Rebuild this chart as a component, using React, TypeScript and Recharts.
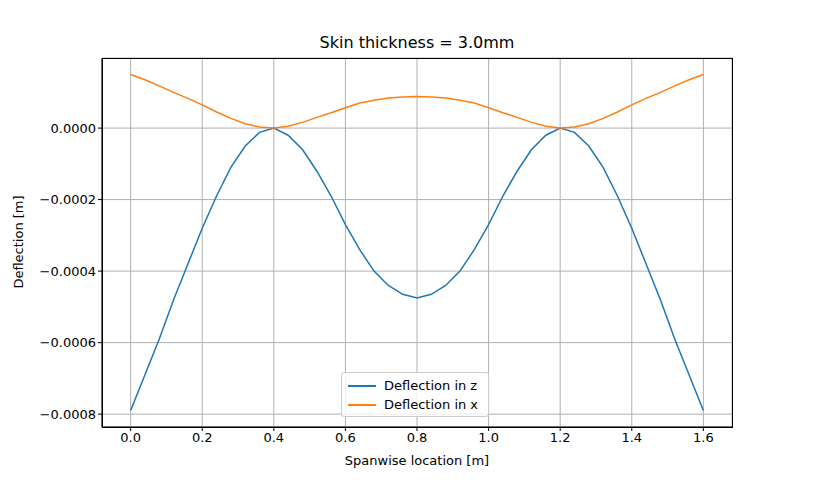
import React from "react";
import { LineChart, Line, XAxis, YAxis, CartesianGrid } from "recharts";

const spanwise = [0,0.04,0.08,0.12,0.16,0.2,0.24,0.28,0.32,0.36,0.4,0.44,0.48,0.52,0.56,0.6,0.64,0.68,0.72,0.76,0.8,0.84,0.88,0.92,0.96,1.0,1.04,1.08,1.12,1.16,1.2,1.24,1.28,1.32,1.36,1.4,1.44,1.48,1.52,1.56,1.6];
const deflZ = [-0.00079,-0.00069,-0.00059,-0.00048,-0.00038,-0.00028,-0.00019,-0.00011,-0.00005,-0.000012,0,-0.00002,-0.00006,-0.00012,-0.00019,-0.00027,-0.00034,-0.0004,-0.00044,-0.000465,-0.000475,-0.000465,-0.00044,-0.0004,-0.00034,-0.00027,-0.00019,-0.00012,-0.00006,-0.00002,0,-0.000012,-0.00005,-0.00011,-0.00019,-0.00028,-0.00038,-0.00048,-0.00059,-0.00069,-0.00079];
const deflX = [0.00015,0.000135,0.000118,0.0001,0.000083,0.000065,0.000045,0.000027,0.000012,0.000003,0,0.000005,0.000016,0.00003,0.000043,0.000057,0.00007,0.000078,0.000084,0.000087,0.000088,0.000087,0.000084,0.000078,0.00007,0.000057,0.000043,0.00003,0.000016,0.000005,0,0.000003,0.000012,0.000027,0.000045,0.000065,0.000083,0.0001,0.000118,0.000135,0.00015];
const xTicks = [0,0.2,0.4,0.6,0.8,1.0,1.2,1.4,1.6];
const yTicks = [-0.0008,-0.0006,-0.0004,-0.0002,0];

const data = spanwise.map((s, i) => ({ s, z: deflZ[i], x: deflX[i] }));
const font = "DejaVu Sans, sans-serif";
const tickStyle = { fontSize: 13, fill: "#000", fontFamily: font };

export default function App() {
  return (
    <div style={{ position: "absolute", left: 0, top: 0, width: 813, height: 480, background: "#fff", fontFamily: font }}>
      <div style={{ position: "absolute", left: 102, width: 630, top: 33, textAlign: "center", fontSize: 16 }}>Skin thickness = 3.0mm</div>
      <LineChart width={813} height={480} data={data} margin={{ top: 58, right: 81, bottom: 23, left: 0 }}>
        <CartesianGrid stroke="#b0b0b0" vertical horizontal />
        <XAxis dataKey="s" type="number" domain={[-0.08, 1.68]} ticks={xTicks} height={30} allowDataOverflow
          tickFormatter={(v: number) => v.toFixed(1)} tick={tickStyle} stroke="#000" tickSize={4} />
        <YAxis type="number" domain={[-0.000836, 0.000196]} ticks={yTicks} width={102} allowDataOverflow
          tickFormatter={(v: number) => v.toFixed(4).replace("-", "\u2212")} tick={tickStyle} stroke="#000" tickSize={4} />
        <Line dataKey="z" stroke="#1f77b4" strokeWidth={1.5} dot={false} isAnimationActive={false} />
        <Line dataKey="x" stroke="#ff7f0e" strokeWidth={1.5} dot={false} isAnimationActive={false} />
      </LineChart>
      <div style={{ position: "absolute", left: 102, top: 58, width: 629, height: 368, border: "1px solid #000", pointerEvents: "none" }} />
      <div style={{ position: "absolute", left: 102, width: 630, top: 453, textAlign: "center", fontSize: 13 }}>Spanwise location [m]</div>
      <div style={{ position: "absolute", left: 18, top: 242, fontSize: 13, transform: "translate(-50%,-50%) rotate(-90deg)", whiteSpace: "nowrap" }}>Deflection [m]</div>
      <div style={{ position: "absolute", left: 341, top: 372, width: 148, height: 45, border: "1px solid #ccc", borderRadius: 3, background: "rgba(255,255,255,0.8)", fontSize: 13, boxSizing: "border-box", padding: "3px 6px" }}>
        {[["Deflection in z", "#1f77b4"], ["Deflection in x", "#ff7f0e"]].map(([t, c]) => (
          <div key={t} style={{ display: "flex", alignItems: "center", height: 19 }}>
            <div style={{ width: 28, height: 2, background: c, marginRight: 8 }} />{t}
          </div>
        ))}
      </div>
    </div>
  );
}
